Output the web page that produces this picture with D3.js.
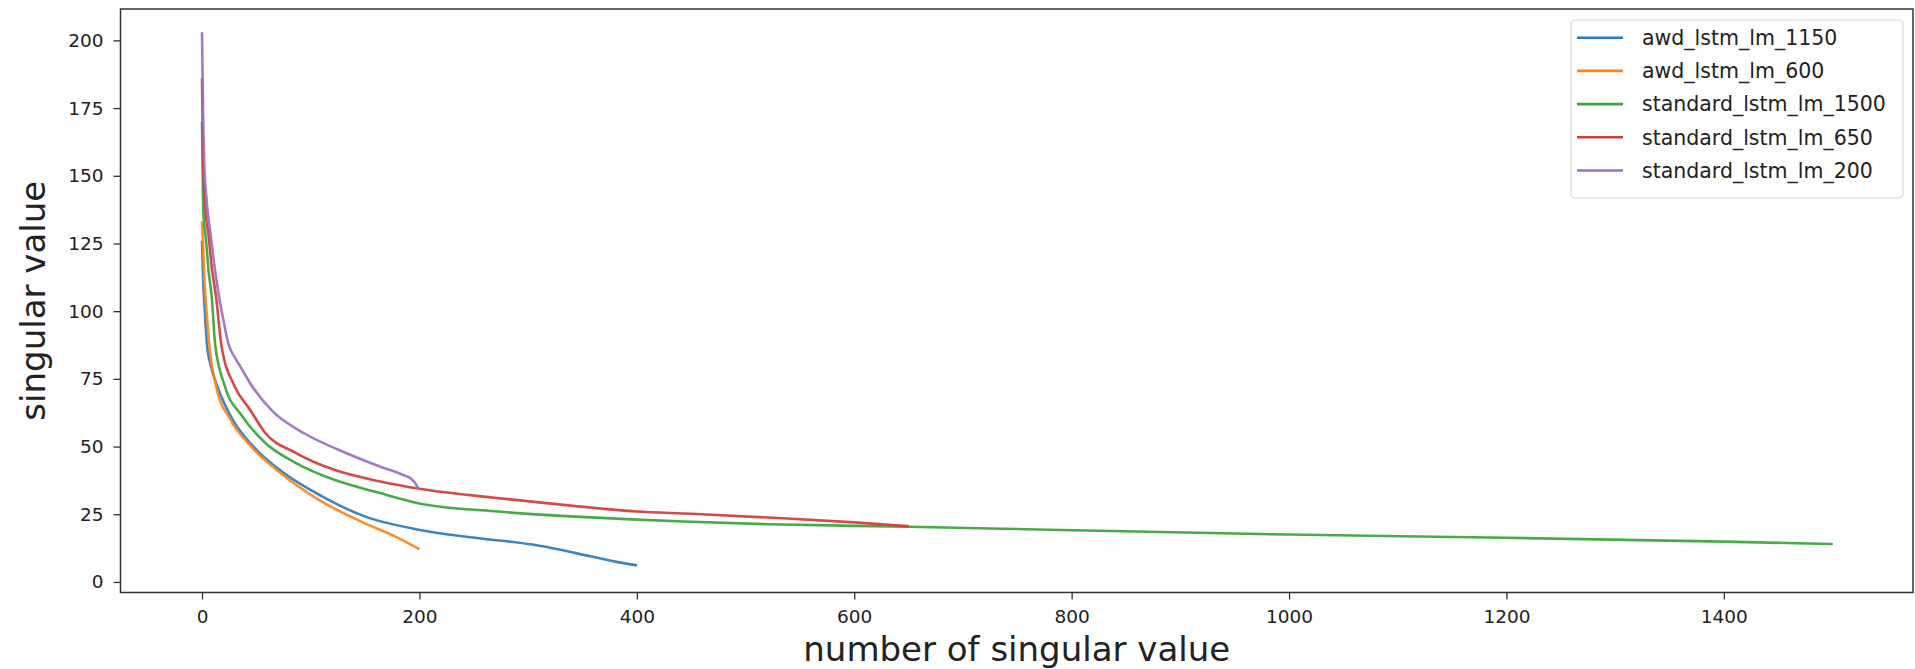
<!DOCTYPE html>
<html>
<head>
<meta charset="utf-8">
<script src="https://cdn.jsdelivr.net/npm/d3@7"></script>
<style>
  html, body { margin: 0; padding: 0; background: #fff; }
  svg { display: block; }
  text { font-family: "DejaVu Sans", sans-serif; fill: #222; }
</style>
</head>
<body>
<svg id="chart" width="1915" height="669"></svg>
<script>
// ---- data ----
const seriesNames = ["awd_lstm_lm_1150", "awd_lstm_lm_600", "standard_lstm_lm_1500", "standard_lstm_lm_650", "standard_lstm_lm_200"];
const seriesColors = ["#2b7bba", "#ff8418", "#37a537", "#d43a3a", "#9a70c2"];

const awdLstm1150 = [[0,125.5],[1,112],[2,104],[3,97],[4.5,88],[8,80],[14,72.3],[28,60],[47,50.1],[75,40.3],[110,31.7],[149,24.3],[198,19.4],[251,16.3],[304,13.8],[357,9.5],[380,7.5],[399,6.2]];
const awdLstm600 = [[0,132.7],[1,124],[2,113],[4,101],[6.5,88],[13,72.3],[26,60],[45,50.1],[72,40.3],[107,30.4],[149,21.8],[177,16.9],[199,12.3]];
const stdLstm1500 = [[0,169.5],[1,140],[2,132],[3.5,127],[6,115],[9,105],[12,88],[21,72.3],[37,61.2],[58,51.4],[86,44],[121,37.8],[163,32.9],[200,29.0],[269,26.1],[339,24.2],[400,23.0],[443,22.3],[520,21.3],[650,20.4],[800,19.1],[1000,17.5],[1200,16.3],[1400,14.9],[1499,14.0]];
const stdLstm650 = [[0,185.5],[1,155],[3,138],[6,128],[9,116],[13,105],[18,87],[30,72.3],[44,63.7],[58,55.1],[86,47.7],[121,41.5],[163,37.2],[200,34.4],[269,31.1],[339,28.2],[400,26.0],[450,25.2],[520,23.8],[600,22.0],[649,20.6]];
const stdLstm200 = [[0,202.5],[1,172],[2,155],[4,142],[6,134],[8,128],[11,118],[15,107],[20,96],[24,88.3],[30,83],[35,79.7],[47,71.7],[65,63],[93,55.1],[125,48.9],[163,42.7],[185,39.5],[192,38.2],[196,36.5],[199,34.5]];

const xTicks = [0, 200, 400, 600, 800, 1000, 1200, 1400];
const yTicks = [0, 25, 50, 75, 100, 125, 150, 175, 200];
const xLabel = "number of singular value";
const yLabel = "singular value";

const allSeries = [awdLstm1150, awdLstm600, stdLstm1500, stdLstm650, stdLstm200];

// ---- layout ----
const plot = { left: 120.5, right: 1913, top: 9, bottom: 592.5 };
const svg = d3.select("#chart");

const x = d3.scaleLinear().domain([-75, 1574]).range([plot.left, plot.right]);
const y = d3.scaleLinear().domain([-3.9, 211.6]).range([plot.bottom, plot.top]);

svg.append("defs").append("clipPath").attr("id", "clip")
  .append("rect").attr("x", plot.left).attr("y", plot.top)
  .attr("width", plot.right - plot.left).attr("height", plot.bottom - plot.top);

// lines
const line = d3.line().x(d => x(d[0])).y(d => y(d[1])).curve(d3.curveMonotoneX);
const lg = svg.append("g").attr("clip-path", "url(#clip)");
allSeries.forEach((s, i) => {
  lg.append("path").datum(s)
    .attr("d", line)
    .attr("fill", "none")
    .attr("stroke", seriesColors[i])
    .attr("stroke-width", 2.6)
    .attr("stroke-opacity", 0.92)
    .attr("stroke-linejoin", "round")
    .attr("stroke-linecap", "square");
});

// axes
const fmt = d3.format("d");
const xAxis = d3.axisBottom(x).tickValues(xTicks).tickFormat(fmt).tickSize(7).tickPadding(10).tickSizeOuter(0);
const yAxis = d3.axisLeft(y).tickValues(yTicks).tickFormat(fmt).tickSize(7).tickPadding(10).tickSizeOuter(0);

const gx = svg.append("g").attr("transform", `translate(0,${plot.bottom})`).call(xAxis);
const gy = svg.append("g").attr("transform", `translate(${plot.left},0)`).call(yAxis);
[gx, gy].forEach(g => {
  g.select(".domain").remove();
  g.selectAll(".tick line").attr("stroke", "#333").attr("stroke-width", 1.3);
  g.selectAll(".tick text").style("font-family", "DejaVu Sans").style("font-size", "18.5px").attr("fill", "#222");
});

// frame
svg.append("rect")
  .attr("x", plot.left).attr("y", plot.top)
  .attr("width", plot.right - plot.left).attr("height", plot.bottom - plot.top)
  .attr("fill", "none").attr("stroke", "#333").attr("stroke-width", 1.5);

// axis labels
svg.append("text")
  .attr("x", (plot.left + plot.right) / 2).attr("y", 661)
  .attr("text-anchor", "middle")
  .style("font-size", "34px")
  .text(xLabel);

svg.append("text")
  .attr("transform", `translate(45,${(plot.top + plot.bottom) / 2}) rotate(-90)`)
  .attr("text-anchor", "middle")
  .style("font-size", "34px")
  .text(yLabel);

// legend
const leg = { x: 1571, y: 20, w: 332, h: 178, rowStart: 37.7, rowStep: 33.2 };
const lgd = svg.append("g");
lgd.append("rect")
  .attr("x", leg.x).attr("y", leg.y).attr("width", leg.w).attr("height", leg.h)
  .attr("rx", 4).attr("ry", 4)
  .attr("fill", "#fff").attr("fill-opacity", 0.8)
  .attr("stroke", "#d5d5d5").attr("stroke-width", 1.2);
seriesNames.forEach((name, i) => {
  const yy = leg.rowStart + i * leg.rowStep;
  lgd.append("line")
    .attr("x1", 1577).attr("x2", 1623).attr("y1", yy).attr("y2", yy)
    .attr("stroke", seriesColors[i]).attr("stroke-width", 2.6);
  lgd.append("text")
    .attr("x", 1642).attr("y", yy).attr("dy", "0.36em")
    .style("font-size", "20.5px")
    .text(name);
});
</script>
</body>
</html>
